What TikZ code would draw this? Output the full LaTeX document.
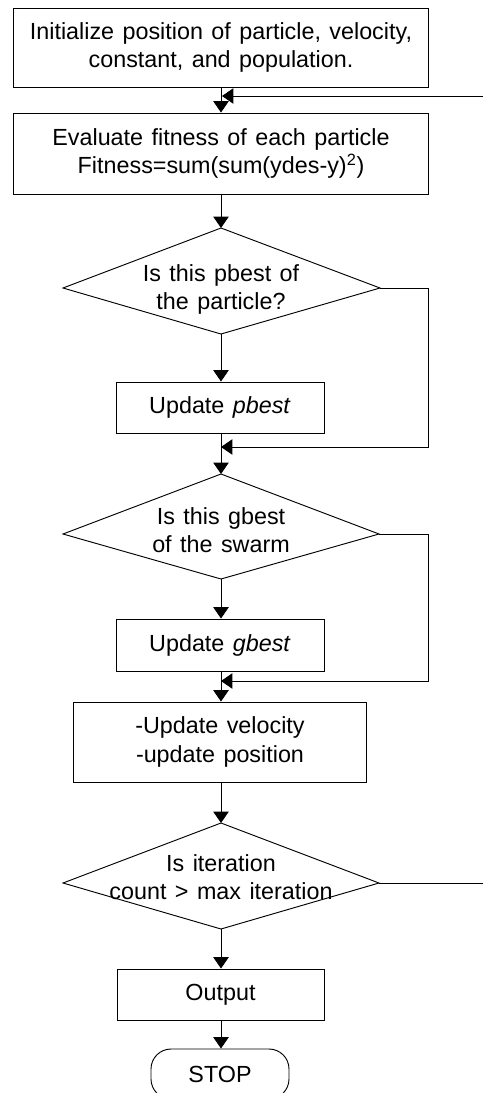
\documentclass[tikz,border=0pt]{standalone}
\usepackage{fontspec}
\setmainfont[WordSpace=1.3]{Liberation Sans}
\usetikzlibrary{arrows.meta}
\tikzset{
  box/.style={draw, rectangle, align=center, inner sep=0pt, font=\fontsize{17.5}{21.5}\selectfont},
  txt/.style={align=center, inner sep=0pt, font=\fontsize{17.5}{21}\selectfont},
  flow/.style={-{Triangle[width=11.5pt,length=8.5pt]}},
}

\begin{document}
\begin{tikzpicture}[x=0.75pt,y=-0.75pt,line width=0.7pt]
            \useasboundingbox (0,0) rectangle (483,1093);
            % process boxes
            \node[box, minimum width=311.25pt, minimum height=59.25pt] (init) at (221,47.5) {Initialize position of particle, velocity,\\constant, and population.};
            \node[box, minimum width=311.25pt, minimum height=60.75pt] (eval) at (221,153.5) {Evaluate fitness of each particle\\Fitness=sum(sum(ydes-y)\textsuperscript{2})};
            \node[box, minimum width=156pt, minimum height=38.25pt] (upb) at (220,407.5) {Update \textit{pbest}};
            \node[box, minimum width=156pt, minimum height=39pt] (ugb) at (220,645) {Update \textit{gbest}};
            \node[box, minimum width=219.75pt, minimum height=60pt] (vel) at (220,742) {-Update velocity\\-update position};
            \node[box, minimum width=155.25pt, minimum height=38.25pt] (out) at (220.5,994.5) {Output};
            \node[box, rounded corners=15pt, minimum width=103.5pt, minimum height=37.5pt] (stop) at (220,1074) {STOP};
            % decisions
            \coordinate (pb-n) at (221,228); \coordinate (pb-e) at (380,288);
            \coordinate (pb-s) at (221,334); \coordinate (pb-w) at (63,288);
            \draw (pb-n) -- (pb-e) -- (pb-s) -- (pb-w) -- cycle;
            \node[txt] (pbq) at (221,289) {Is this pbest of\\the particle?};
            \coordinate (gb-n) at (221,474); \coordinate (gb-e) at (379,534);
            \coordinate (gb-s) at (221,579); \coordinate (gb-w) at (63,534);
            \draw (gb-n) -- (gb-e) -- (gb-s) -- (gb-w) -- cycle;
            \node[txt] (gbq) at (221,530) {Is this gbest\\of the swarm};
            \coordinate (it-n) at (221,823); \coordinate (it-e) at (379,883);
            \coordinate (it-s) at (221,929); \coordinate (it-w) at (63,883);
            \draw (it-n) -- (it-e) -- (it-s) -- (it-w) -- cycle;
            \node[txt] (itq) at (221,877) {Is iteration\\count > max iteration};
            % main flow
            \draw[flow] (init.south -| pb-n) -- (eval.north -| pb-n);
            \draw[flow] (eval.south -| pb-n) -- (pb-n);
            \draw[flow] (pb-s) -- (upb.north -| pb-s);
            \draw[flow] (upb.south -| pb-s) -- (gb-n);
            \draw[flow] (gb-s) -- (ugb.north -| gb-s);
            \draw[flow] (ugb.south -| gb-s) -- (vel.north -| gb-s);
            \draw[flow] (vel.south -| it-n) -- (it-n);
            \draw[flow] (it-s) -- (out.north -| it-s);
            \draw[flow] (out.south -| it-s) -- (stop.north -| it-s);
            % loops back
            \coordinate (pbloop) at (428,447); \coordinate (pbjoin) at (221,447);
            \draw[flow] (pb-e) -| (pbloop) -- (pbjoin);
            \coordinate (gbloop) at (428,681); \coordinate (gbjoin) at (221,681);
            \draw[flow] (gb-e) -| (gbloop) -- (gbjoin);
            \coordinate (edgebot) at (483,883);
            \draw (it-e) -- (edgebot);
            \coordinate (edgetop) at (483,96); \coordinate (topjoin) at (222,96);
            \draw[flow] (edgetop) -- (topjoin);
        \end{tikzpicture}
\end{document}
